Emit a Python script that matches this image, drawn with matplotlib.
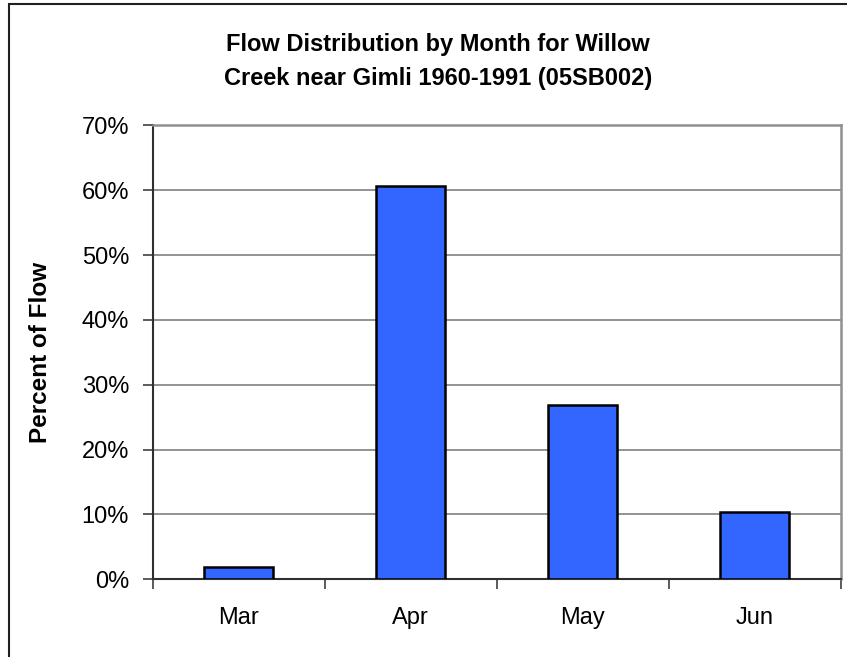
import matplotlib
matplotlib.use("Agg")
import matplotlib.pyplot as plt
from matplotlib.patches import Rectangle
from matplotlib.ticker import FuncFormatter, FixedLocator

plt.rcParams['font.family'] = ['Liberation Sans', 'DejaVu Sans']

months = ["Mar", "Apr", "May", "Jun"]
percent_flow = [1.85, 60.7, 26.9, 10.4]
y_ticks = [0, 10, 20, 30, 40, 50, 60, 70]

title_lines = ["Flow Distribution by Month for Willow",
               "Creek near Gimli 1960-1991 (05SB002)"]
ylabel = "Percent of Flow"

fig = plt.figure(figsize=(8.47, 6.57), dpi=100)
fig.patch.set_facecolor("white")

# outer chart frame (runs off the right and bottom edges)
fig.patches.append(Rectangle((8.5 / 847, -0.05), 1.2, 1 - 3.5 / 657 + 0.05,
                             transform=fig.transFigure, fill=False,
                             edgecolor="#202020", linewidth=1.5))

ax = fig.add_axes([152.7 / 847, 1 - 579.3 / 657, (840.5 - 152.7) / 847,
                   (579.3 - 125.3) / 657])

x = range(len(months))
ax.bar(x, percent_flow, width=0.4, color="#3366FF", edgecolor="black",
       linewidth=1.8, zorder=3)

ax.set_xlim(-0.5, len(months) - 0.5)
ax.set_ylim(0, 70)

ax.yaxis.set_major_locator(FixedLocator(y_ticks))
ax.yaxis.set_major_formatter(FuncFormatter(lambda v, p: f"{v:.0f}%"))
ax.grid(axis="y", color="#808080", linewidth=1.2, zorder=0)
ax.set_axisbelow(True)

# category boundary ticks and centred month labels
ax.set_xticks([i - 0.5 for i in range(len(months) + 1)])
ax.set_xticklabels([])
ax.set_xticks(list(x), minor=True)
ax.set_xticklabels(months, minor=True)
ax.tick_params(axis="x", which="major", length=7, width=1.2, color="#404040")
ax.tick_params(axis="x", which="minor", length=0, pad=20, labelsize=17)
ax.tick_params(axis="y", length=7, width=1.2, color="#404040", pad=10,
               labelsize=17)

for side in ("left", "bottom"):
    ax.spines[side].set_color("#303030")
    ax.spines[side].set_linewidth(1.5)
for side in ("top", "right"):
    ax.spines[side].set_color("#909090")
    ax.spines[side].set_linewidth(1.8)

ax.set_ylabel(ylabel, fontsize=17.5, fontweight="bold", labelpad=21)
for y_px, line in zip((45, 78), title_lines):
    fig.text(438 / 847, 1 - y_px / 657, line, ha="center", va="center",
             fontsize=17, fontweight="bold")

fig.savefig("out.png", dpi=100, facecolor="white")
